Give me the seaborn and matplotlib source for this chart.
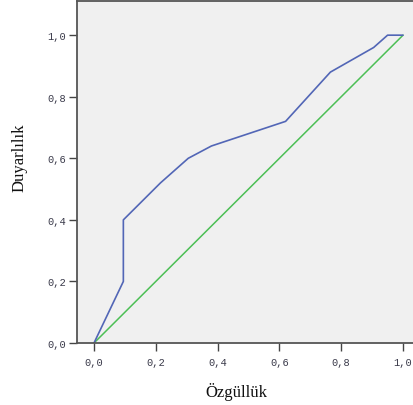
import numpy as np
import pandas as pd
import matplotlib
matplotlib.use("Agg")
import matplotlib.pyplot as plt
import seaborn as sns

# ROC curve values
fpr = [0.0, 0.095, 0.095, 0.215, 0.305, 0.38, 0.62, 0.765, 0.905, 0.95, 1.0]
tpr = [0.0, 0.2, 0.4, 0.52, 0.6, 0.64, 0.72, 0.88, 0.96, 1.0, 1.0]
ref_x = [0.0, 1.0]
ref_y = [0.0, 1.0]

tick_vals = [0.0, 0.2, 0.4, 0.6, 0.8, 1.0]
tick_labels = ["0,0", "0,2", "0,4", "0,6", "0,8", "1,0"]

x_title = "Özgüllük"
y_title = "Duyarlılık"

roc = pd.DataFrame({"x": fpr, "y": tpr})
ref = pd.DataFrame({"x": ref_x, "y": ref_y})

sns.set_style("white")

fig = plt.figure(figsize=(4.14, 4.06), dpi=100)
ax = fig.add_axes([77 / 414, 62 / 406, 339 / 414, 342 / 406])
ax.set_facecolor("#f0f0f0")

sns.lineplot(data=ref, x="x", y="y", ax=ax, color="#4cbf55", linewidth=1.1,
             sort=False, estimator=None)
sns.lineplot(data=roc, x="x", y="y", ax=ax, color="#5266b6", linewidth=1.2,
             sort=False, estimator=None)

ax.set_xlim(-0.055, 1.042)
ax.set_ylim(0.0, 1.111)

ax.set_xticks(tick_vals)
ax.set_xticklabels(tick_labels)
ax.set_yticks(tick_vals)
ax.set_yticklabels(tick_labels)

ax.tick_params(axis="both", direction="out", length=6, width=1, color="#444444",
               labelsize=7.5, labelcolor="#3a3a4a", bottom=True, left=True)
ax.tick_params(axis="x", pad=4)
ax.tick_params(axis="y", pad=2)
for lab in ax.get_xticklabels() + ax.get_yticklabels():
    lab.set_family("Liberation Mono")

for s in ax.spines.values():
    s.set_color("#555555")
    s.set_linewidth(1.3)

ax.set_xlabel(x_title, family="Liberation Serif", fontsize=12, color="#111111", va="center")
ax.set_ylabel(y_title, family="Liberation Serif", fontsize=12, color="#111111", va="center")
ax.xaxis.set_label_coords(0.469, -0.140)
ax.yaxis.set_label_coords(-0.171, 0.544)

fig.savefig("out.png", dpi=100)
